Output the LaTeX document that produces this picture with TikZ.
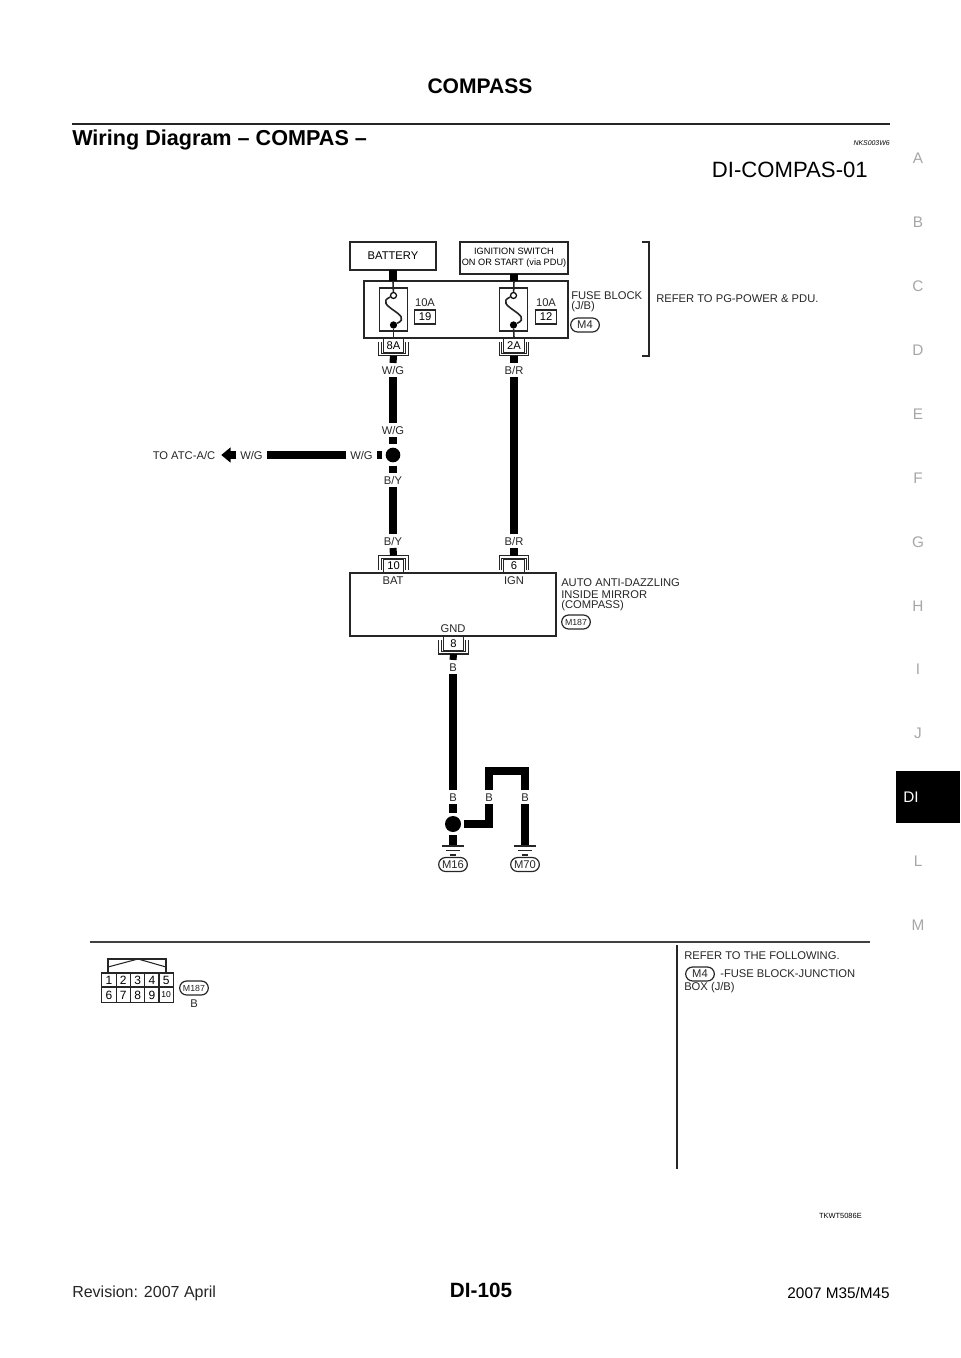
\documentclass[tikz,border=0pt]{standalone}
\usepackage{fontspec}
\setmainfont{Liberation Sans}
\usetikzlibrary{arrows.meta,shapes.misc}
\newcommand{\fsz}[1]{\fontsize{#1}{#1}\selectfont}
% shield round a pin, open towards the unit
\newcommand{\shieldbot}[1]{\foreach \d in {0,2.5}{\draw[shield] ([shift={(\d,-14)}]#1.south west) -- ([shift={(\d,-\d)}]#1.south west) -- ([shift={(-\d,-\d)}]#1.south east) -- ([shift={(-\d,-14)}]#1.south east);}}
\newcommand{\shieldtop}[1]{\foreach \d in {0,2.5}{\draw[shield] ([shift={(\d,14)}]#1.north west) -- ([shift={(\d,\d)}]#1.north west) -- ([shift={(-\d,\d)}]#1.north east) -- ([shift={(-\d,14)}]#1.north east);}}
\newcommand{\gnd}[1]{\draw[thinwire] ([xshift=-8.25pt]#1) -- ([xshift=8.25pt]#1);
	\draw[thinwire] ([shift={(-7,4.5)}]#1) -- ([shift={(7,4.5)}]#1);
	\draw[thinwire] ([shift={(-3,9)}]#1) -- ([shift={(3,9)}]#1);}
\tikzset{
	lbl/.style={font=\fsz{8.4},inner xsep=3pt,inner ysep=2.3pt,text height=6pt,text depth=0pt,outer sep=0pt,text=black!85},
	txt/.style={font=\fsz{8.4},inner sep=0pt,anchor=west,text=black!85},
	unitbox/.style={draw=black!85,line width=.9pt,inner sep=0pt,outer sep=0pt,fill=white},
	pinbox/.style={unitbox,font=\fsz{8.4},minimum width=15.5pt,minimum height=10.5pt,outer xsep=3.4pt,outer ysep=2.6pt},
	wire/.style={line width=5.3pt,black},
	thinwire/.style={line width=1.2pt,black!85},
	shield/.style={line width=.8pt,black!85},
	splice/.style={circle,fill=black,inner sep=0pt,minimum size=11pt,outer sep=2.4pt},
	oval/.style={rounded rectangle,draw=black!85,line width=.9pt,font=\fsz{8.4},inner sep=0pt,minimum width=21.5pt,minimum height=10.5pt,text=black!85},
	tab/.style={font=\fsz{11.5},text=black!35,inner sep=0pt},
}
\begin{document}
\begin{tikzpicture}[x=.75pt,y=-.75pt]
	\useasboundingbox (0,0) rectangle (960,1358);
	% page furniture
	\node[font=\bfseries\fsz{15.8},inner sep=0pt] (pagetitle) at (480,86) {COMPASS};
	\coordinate (ruleL) at (72,124);
	\coordinate (ruleR) at (890,124);
	\draw[line width=2pt,black!85] (ruleL) -- (ruleR);
	\node[txt,font=\bfseries\fsz{16.2},text=black] (heading) at (72,140) {Wiring Diagram – COMPAS –};
	\node[font=\itshape\fsz{5.2},inner sep=0pt,anchor=east] (docno) at (890,143) {NKS003W6};
	\node[font=\fsz{16.6},inner sep=0pt,anchor=east] (sheet) at (868,170) {DI-COMPAS-01};
	\foreach \lt/\yy in {A/158,B/222,C/286,D/350,E/414,F/478,G/542,H/606,I/669,J/733,L/861,M/925}
		\node[tab] (tab\lt) at (918,\yy) {\lt};
	\node[fill=black,minimum width=48pt,minimum height=38.5pt,inner sep=0pt,anchor=north west] (tabbox) at (896,771) {};
	\node[tab,text=white] (tabDI) at (911,797) {DI};
	\node[font=\bfseries\fsz{15.5},inner sep=0pt] (pageno) at (481,1290) {DI-105};
	\node[txt,font=\fsz{12}] (rev) at (72,1293) {Revision: 2007 April};
	\node[font=\fsz{11.5},inner sep=0pt,anchor=east] (model) at (890,1293) {2007 M35/M45};
	\node[font=\fsz{5.6},inner sep=0pt,anchor=east] (artno) at (862,1216) {TKWT5086E};

	% supply side
	\node[unitbox,font=\fsz{8.4},minimum width=64.5pt,minimum height=21pt] (battery) at (393,256) {BATTERY};
	\node[unitbox,font=\fsz{6.9},minimum width=81pt,minimum height=24pt,align=center] (ignition) at (514,258) {IGNITION SWITCH\\[1pt]ON OR START (via PDU)};
	\node[unitbox,minimum width=153pt,minimum height=42.75pt] (fuseblock) at (466,309.5) {};
	\node[unitbox,minimum width=21.5pt,minimum height=32.25pt] (fuseA) at (393.5,309.5) {};
	\node[unitbox,minimum width=21.5pt,minimum height=32.25pt] (fuseB) at (513.5,309.5) {};
	\node[circle,draw=black,line width=.9pt,fill=white,inner sep=0pt,minimum size=4.5pt] (fuseAin) at (393.5,295.5) {};
	\node[circle,draw=black,line width=.9pt,fill=white,inner sep=0pt,minimum size=4.5pt] (fuseBin) at (513.5,295.5) {};
	\node[circle,fill=black,inner sep=0pt,minimum size=5.5pt] (fuseAout) at (393.5,325) {};
	\node[circle,fill=black,inner sep=0pt,minimum size=5.5pt] (fuseBout) at (513.5,325) {};
	\node[lbl,inner sep=0pt] (ampA) at (425,303) {10A};
	\node[lbl,inner sep=0pt] (ampB) at (546,303) {10A};
	\node[unitbox,font=\fsz{8.4},minimum width=16pt,minimum height=10.5pt] (fuseNoA) at (425,317) {19};
	\node[unitbox,font=\fsz{8.4},minimum width=16pt,minimum height=10.5pt] (fuseNoB) at (546,317) {12};
	\node[txt] (fusename) at (571,296) {FUSE BLOCK};
	\node[txt] (fusejb) at (571,307) {(J/B)};
	\node[oval] (ovalMfour) at (585,325) {M4};
	\node[txt] (refer) at (656,299) {REFER TO PG-POWER \& PDU.};
	\coordinate (brTopL) at (642,242);
	\coordinate (brTopR) at (649,242);
	\coordinate (brBotL) at (642,356);
	\coordinate (brBotR) at (649,356);
	\draw[line width=1.1pt,black!85] (brTopL) -- (brTopR) -- (brBotR) -- (brBotL);
	\node[pinbox] (pinEightA) at (393.5,345.5) {8A};
	\node[pinbox] (pinTwoA) at (514,345.5) {2A};
	\shieldbot{pinEightA}
	\shieldbot{pinTwoA}
	\draw[wire] (battery.south) -- (battery.south |- fuseblock.north);
	\draw[wire] (ignition.south) -- (ignition.south |- fuseblock.north);
	\draw[thinwire] (battery.south |- fuseblock.north) -- (fuseAin);
	\draw[thinwire] (ignition.south |- fuseblock.north) -- (fuseBin);
	\draw[thinwire] (fuseAin) .. controls ([shift={(-22,10)}]fuseAin) and ([shift={(22,-10)}]fuseAout) .. (fuseAout);
	\draw[thinwire] (fuseBin) .. controls ([shift={(-22,10)}]fuseBin) and ([shift={(22,-10)}]fuseBout) .. (fuseBout);
	\draw[thinwire] (fuseAout) -- (pinEightA.center |- fuseblock.south);
	\draw[thinwire] (fuseBout) -- (pinTwoA.center |- fuseblock.south);

	% wire labels
	\node[lbl] (wgA) at (393,370) {W/G};
	\node[lbl] (brA) at (514,370) {B/R};
	\node[lbl] (wgB) at (393,430) {W/G};
	\node[splice] (spliceA) at (393,455) {};
	\node[lbl] (wgC) at (361.5,455) {W/G};
	\node[lbl] (wgD) at (251.5,455) {W/G};
	\node[lbl,inner xsep=0pt] (toatc) at (184,455) {TO ATC-A/C};
	\node[lbl] (byA) at (393,480) {B/Y};
	\node[lbl] (byB) at (393,541) {B/Y};
	\node[lbl] (brB) at (514,541) {B/R};

	% mirror unit
	\node[unitbox,minimum width=154.5pt,minimum height=47.25pt] (mirror) at (453,604.5) {};
	\node[pinbox] (pinTen) at (393.5,566) {10};
	\node[pinbox] (pinSix) at (514,566) {6};
	\node[pinbox] (pinGnd) at (453.5,643.5) {8};
	\shieldtop{pinTen}
	\shieldtop{pinSix}
	\shieldbot{pinGnd}
	\node[lbl,inner sep=0pt] (bat) at (393,580) {BAT};
	\node[lbl,inner sep=0pt] (ign) at (514,580) {IGN};
	\node[lbl,inner sep=0pt] (gnd) at (453,628) {GND};
	\node[txt] (mirrorA) at (561,583) {AUTO ANTI-DAZZLING};
	\node[txt] (mirrorB) at (561,595) {INSIDE MIRROR};
	\node[txt] (mirrorC) at (561,606) {(COMPASS)};
	\node[oval,font=\fsz{6.6}] (ovalMmirror) at (576,622) {M187};

	% ground side
	\node[lbl] (bA) at (453,667) {B};
	\node[lbl] (bB) at (453,797) {B};
	\node[lbl] (bC) at (489,797) {B};
	\node[lbl] (bD) at (525,797) {B};
	\node[splice,minimum size=12pt] (spliceB) at (453,824) {};
	\coordinate (loopL) at (489,771);
	\coordinate (loopR) at (525,771);
	\coordinate (gndA) at (453,846);
	\coordinate (gndB) at (525,846);
	\node[oval] (ovalMsixteen) at (453,864.5) {M16};
	\node[oval] (ovalMseventy) at (525,864.5) {M70};

	% wires
	\draw[wire] (pinEightA.south) -- (wgA.north);
	\draw[wire] (pinTwoA.south) -- (brA.north);
	\draw[wire] (wgA.south) -- (wgB.north);
	\draw[wire] (brA.south) -- (brB.north);
	\draw[wire] (wgB.south) -- (spliceA.north);
	\draw[wire] (spliceA.south) -- (byA.north);
	\draw[wire] (spliceA.west) -- (wgC.east);
	\draw[wire] (wgC.west) -- (wgD.east);
	\draw[wire,-{Triangle[length=7pt,width=11pt]}] (wgD.west) -- ([xshift=4.5pt]toatc.east);
	\draw[wire] (byA.south) -- (byB.north);
	\draw[wire] (byB.south) -- (pinTen.north);
	\draw[wire] (brB.south) -- (pinSix.north);
	\draw[wire] (pinGnd.south) -- (bA.north);
	\draw[wire] (bA.south) -- (bB.north);
	\draw[wire] (bB.south) -- (spliceB.north);
	\draw[wire] (spliceB.south) -- (gndA);
	\draw[wire] (spliceB.east) -| (bC.south);
	\draw[wire] (bC.north) |- (loopL) -- (loopR) -- (bD.north);
	\draw[wire] (bD.south) -- (gndB);
	\gnd{gndA}
	\gnd{gndB}

	% connector views
	\coordinate (lowerL) at (90,942);
	\coordinate (lowerR) at (870,942);
	\coordinate (sideT) at (677,945);
	\coordinate (sideB) at (677,1169);
	\draw[line width=1.1pt,black!75] (lowerL) -- (lowerR);
	\draw[line width=1pt,black!85] (sideT) -- (sideB);
	\foreach \n [count=\i from 0] in {1,2,3,4,5}
		\node[unitbox,font=\fsz{9},minimum width=10.7pt,minimum height=10.6pt] (cell\n) at (109+14.3*\i,980) {\n};
	\foreach \n [count=\i from 0] in {6,7,8,9}
		\node[unitbox,font=\fsz{9},minimum width=10.7pt,minimum height=11.5pt] (cell\n) at (109+14.3*\i,995) {\n};
	\node[unitbox,font=\fsz{6.4},minimum width=10.7pt,minimum height=11.5pt] (cellTen) at (166.2,995) {10};
	\coordinate (housA) at (108,973);
	\coordinate (housB) at (108,959);
	\coordinate (housC) at (166,959);
	\coordinate (housD) at (166,973);
	\coordinate (housE) at (108,967);
	\coordinate (housF) at (138,959);
	\coordinate (housG) at (166,967);
	\draw[shield] (housA) -- (housB) -- (housC) -- (housD);
	\draw[shield] (housE) -- (housF) -- (housG);
	\node[oval,font=\fsz{6.6}] (ovalMview) at (194,988) {M187};
	\node[lbl,inner sep=0pt] (viewB) at (194,1003) {B};
	\node[txt] (followA) at (684,956) {REFER TO THE FOLLOWING.};
	\node[oval] (ovalMfourB) at (700,974) {M4};
	\node[txt] (followB) at (720,974) {-FUSE BLOCK-JUNCTION};
	\node[txt] (followC) at (684,988) {BOX (J/B)};
\end{tikzpicture}
\end{document}
